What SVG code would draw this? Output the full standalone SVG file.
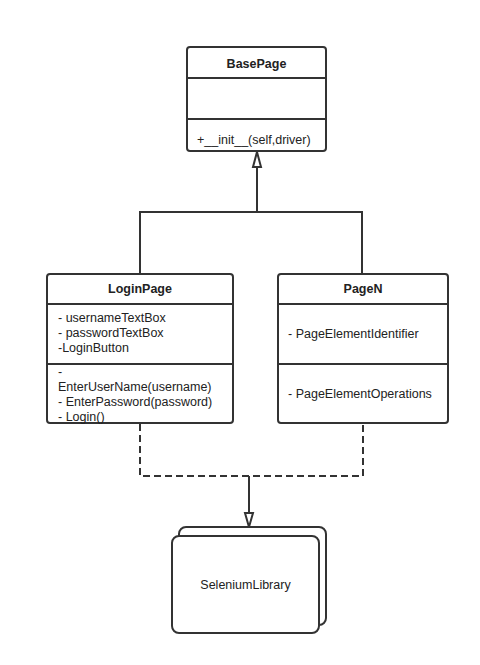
<svg xmlns="http://www.w3.org/2000/svg" width="480" height="665" viewBox="0 0 480 665">
<style>
.box{fill:#fff;stroke:#333;stroke-width:2}
.div{stroke:#333;stroke-width:2}
.t{font-family:"Liberation Sans",Arial,sans-serif;font-size:12.5px;fill:#222}
.b{font-weight:bold;text-anchor:middle}
.c{stroke:#333;stroke-width:2;fill:none}
.d{stroke-dasharray:7,4}
.arr{fill:#fff;stroke:#333;stroke-width:2}
</style>
<rect width="480" height="665" fill="#fff"/>
<g id="connectors">
<path class="c" d="M140 274 V212 H362 V274"/>
<path class="c" d="M257 212 V167"/>
<path class="arr" d="M257 152 L261 167 L253 167 Z"/>
<path class="c d" d="M140 424 V476 H363 V424"/>
<path class="c" d="M249 476 V513"/>
<path class="arr" d="M249 527 L253 513 L245 513 Z"/>
</g>
<g id="BasePage">
<rect class="box" x="187" y="47" width="139" height="104" rx="3"/>
<line class="div" x1="187" y1="78" x2="326" y2="78"/>
<line class="div" x1="187" y1="119" x2="326" y2="119"/>
<text class="t b" x="256.5" y="68">BasePage</text>
<text class="t" x="197" y="144">+__init__(self,driver)</text>
</g>
<g id="LoginPage">
<rect class="box" x="47" y="274" width="186" height="149" rx="3"/>
<line class="div" x1="47" y1="304" x2="233" y2="304"/>
<line class="div" x1="47" y1="364" x2="233" y2="364"/>
<text class="t b" x="140" y="293">LoginPage</text>
<text class="t" x="58" y="322">- usernameTextBox</text>
<text class="t" x="58" y="337">- passwordTextBox</text>
<text class="t" x="58" y="352">-LoginButton</text>
<text class="t" x="58" y="376">-</text>
<text class="t" x="58" y="391">EnterUserName(username)</text>
<text class="t" x="58" y="406">- EnterPassword(password)</text>
<text class="t" x="58" y="421">- Login()</text>
</g>
<g id="PageN">
<rect class="box" x="278" y="274" width="170" height="149" rx="3"/>
<line class="div" x1="278" y1="304" x2="448" y2="304"/>
<line class="div" x1="278" y1="364" x2="448" y2="364"/>
<text class="t b" x="363" y="293">PageN</text>
<text class="t" x="288" y="338">- PageElementIdentifier</text>
<text class="t" x="288" y="398">- PageElementOperations</text>
</g>
<g id="SeleniumLibrary">
<rect class="box" x="179" y="527" width="147" height="98" rx="7"/>
<rect class="box" x="172" y="536" width="147" height="97" rx="7"/>
<text class="t" x="245.5" y="589" text-anchor="middle">SeleniumLibrary</text>
</g>
</svg>
